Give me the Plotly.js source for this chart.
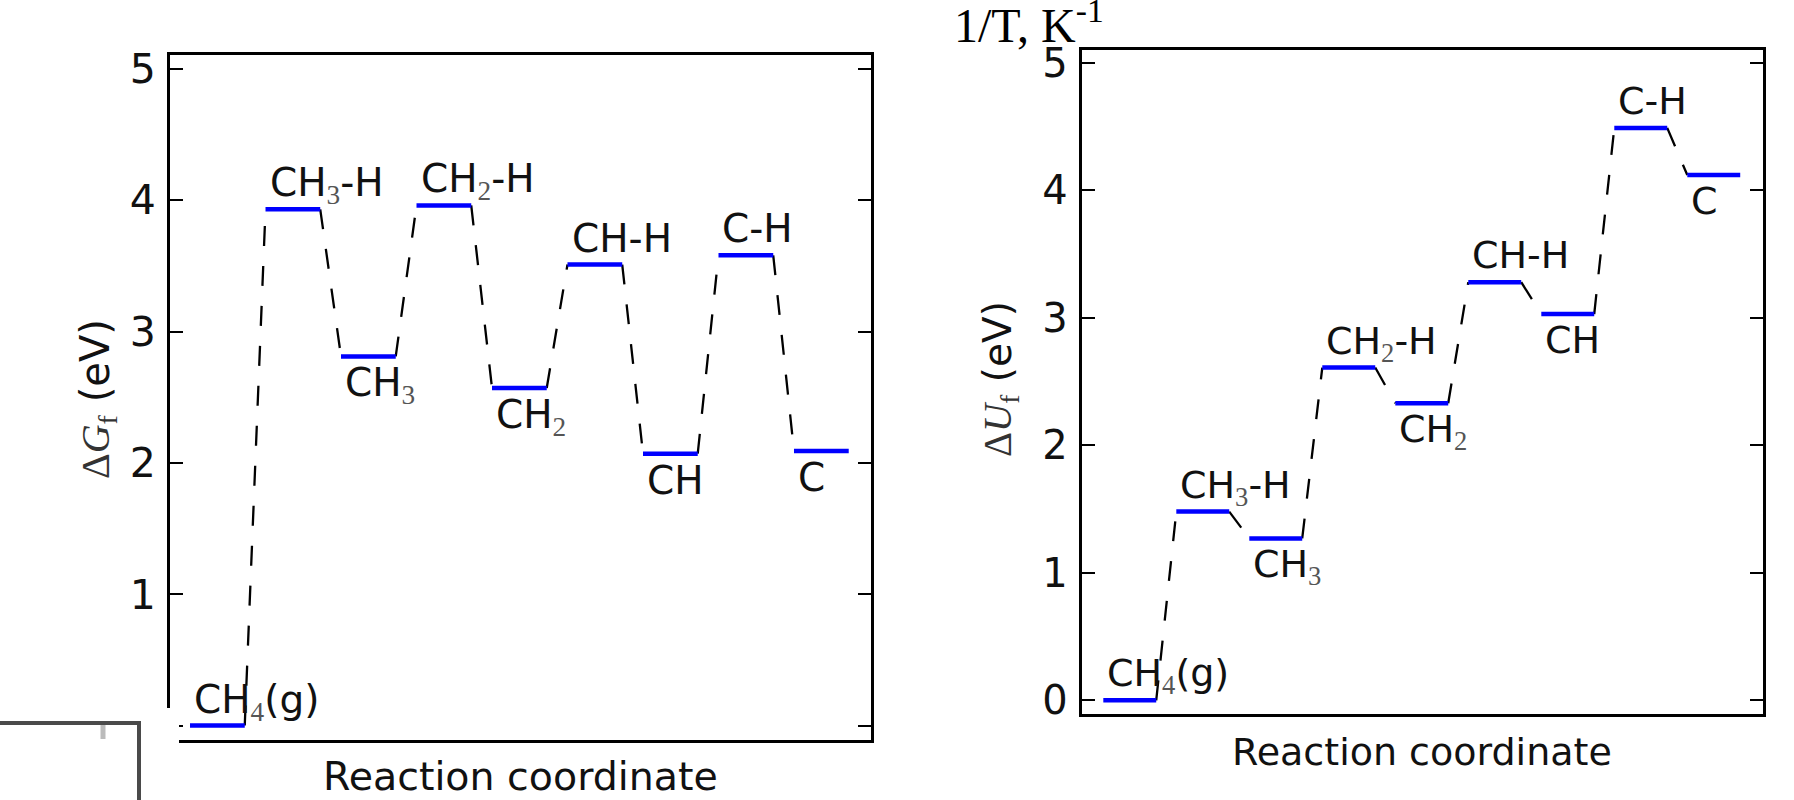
<!DOCTYPE html>
<html><head><meta charset="utf-8">
<script src="https://cdn.plot.ly/plotly-3.0.1.min.js"></script>
<style>html,body{margin:0;padding:0;background:#fff;} #chart{width:1794px;height:800px;}</style>
</head><body><div id="chart"></div>
<script>
// ---- data ----
const species   = ['CH4(g)','CH3-H','CH3','CH2-H','CH2','CH-H','CH','C-H','C'];
const labelSide = ['above','above','below','above','below','above','below','above','below'];
const dG = [0.00, 3.93, 2.81, 3.96, 2.57, 3.51, 2.07, 3.58, 2.09];   // left panel, ΔG_f (eV)
const dU = [0.00, 1.48, 1.27, 2.61, 2.33, 3.28, 3.03, 4.49, 4.12];   // right panel, ΔU_f (eV)
const yTicks = [0, 1, 2, 3, 4, 5];
const xTitleText = 'Reaction coordinate';
const yTitleLeft  = '<span style="font-family:Liberation Serif;color:#333">Δ<i>G</i></span><sub><span style="font-family:Liberation Serif;color:#333">f</span></sub> (eV)';
const yTitleRight = '<span style="font-family:Liberation Serif;color:#333">Δ<i>U</i></span><sub><span style="font-family:Liberation Serif;color:#333">f</span></sub> (eV)';
const overlayText = '1/T, K<sup>-1</sup>';

// ---- helpers ----
const W = 0.725;          // level width (in reaction-coordinate units)
const FONT = 'DejaVu Sans';
const fmt = s => s.replace(/(\d)/g, '<sub><span style="font-family:Liberation Serif;color:#555">$1</span></sub>');

function levels(vals, xa, ya){
  const x = [], y = [];
  vals.forEach((v,i)=>{ x.push(i, i+W, null); y.push(v, v, null); });
  return {type:'scatter', mode:'lines', x, y, xaxis:xa, yaxis:ya,
          line:{color:'#0000ff', width:4.5}, hoverinfo:'skip', showlegend:false};
}
function connectors(vals, xa, ya){
  const x = [], y = [];
  for (let i=0;i<vals.length-1;i++){ x.push(i+W, i+1, null); y.push(vals[i], vals[i+1], null); }
  return {type:'scatter', mode:'lines', x, y, xaxis:xa, yaxis:ya,
          line:{color:'#000', width:2.3, dash:'20px,20px'}, hoverinfo:'skip', showlegend:false};
}
function labels(vals, xa, ya, fs){
  return vals.map((v,i)=>({
    xref:xa, yref:ya, x:i, y:v, xanchor:'left', yanchor:'top',
    xshift:2, yshift: labelSide[i]==='above' ? 51 : -2,
    text: fmt(species[i]), showarrow:false, font:{family:FONT, size:fs, color:'#111'}
  }));
}

const data = [
  connectors(dG,'x','y'), levels(dG,'x','y'),
  connectors(dU,'x2','y2'), levels(dU,'x2','y2')
];

const PW = 1794, PH = 800;
const xa = (d, r, anchor) => ({domain:d, range:r, anchor, showline:true, mirror:true, linecolor:'#000', linewidth:3,
  showgrid:false, zeroline:false, showticklabels:false, ticks:''});
const ya = (d, anchor, fs) => ({domain:d, range:[-0.11, 5.105], anchor, showline:true, mirror:'ticks', linecolor:'#000', linewidth:3,
  showgrid:false, zeroline:false, tickvals:yTicks, ticktext:yTicks.map(String), ticks:'inside', ticklen:13, tickwidth:2, tickcolor:'#000',
  tickfont:{family:FONT, size:fs, color:'#111'}, ticklabelstandoff:3});

const layout = {
  width:PW, height:PH, margin:{l:0,r:0,t:0,b:0}, paper_bgcolor:'#fff', plot_bgcolor:'#fff',
  showlegend:false,
  xaxis:  xa([170/PW, 871/PW], [-0.265, 9.02], 'y'),
  yaxis:  ya([1-740/PH, 1-55/PH], 'x', 41),
  xaxis2: xa([1081.7/PW, 1762.7/PW], [-0.296, 9.033], 'y2'),
  yaxis2: ya([1-714.3/PH, 1-49.5/PH], 'x2', 40),
  annotations: [
    ...labels(dG,'x','y',39),
    ...labels(dU,'x2','y2',38),
    {xref:'paper', yref:'paper', x:520.5/PW, y:1-751/PH, xanchor:'center', yanchor:'top', showarrow:false,
     text:xTitleText, font:{family:FONT, size:39.5, color:'#111'}},
    {xref:'paper', yref:'paper', x:1422/PW, y:1-728.4/PH, xanchor:'center', yanchor:'top', showarrow:false,
     text:xTitleText, font:{family:FONT, size:38, color:'#111'}},
    {xref:'paper', yref:'paper', x:97/PW, y:1-399/PH, xanchor:'center', yanchor:'middle', textangle:-90, showarrow:false,
     text:yTitleLeft, font:{family:FONT, size:40, color:'#111'}},
    {xref:'paper', yref:'paper', x:1000/PW, y:1-379/PH, xanchor:'center', yanchor:'middle', textangle:-90, showarrow:false,
     text:yTitleRight, font:{family:FONT, size:39, color:'#111'}},
    {xref:'paper', yref:'paper', x:952/PW, y:1-54.4/PH, xanchor:'left', yanchor:'bottom', showarrow:false,
     text:overlayText, font:{family:'Liberation Serif', size:48, color:'#000'}}
  ],
  shapes: [
    {type:'rect', xref:'paper', yref:'paper', x0:0, x1:179/PW, y0:0, y1:1-708/PH, fillcolor:'#fff', line:{width:0}, layer:'above'},
    {type:'line', xref:'paper', yref:'paper', x0:0, x1:141/PW, y0:1-723/PH, y1:1-723/PH, line:{color:'#4a4a4a', width:4}, layer:'above'},
    {type:'line', xref:'paper', yref:'paper', x0:139/PW, x1:139/PW, y0:0, y1:1-721/PH, line:{color:'#4a4a4a', width:4}, layer:'above'},
    {type:'line', xref:'paper', yref:'paper', x0:103/PW, x1:103/PW, y0:1-739/PH, y1:1-725/PH, line:{color:'#bbb', width:5}, layer:'above'}
  ]
};

Plotly.newPlot('chart', data, layout, {staticPlot:true, displayModeBar:false});
</script>
</body></html>
